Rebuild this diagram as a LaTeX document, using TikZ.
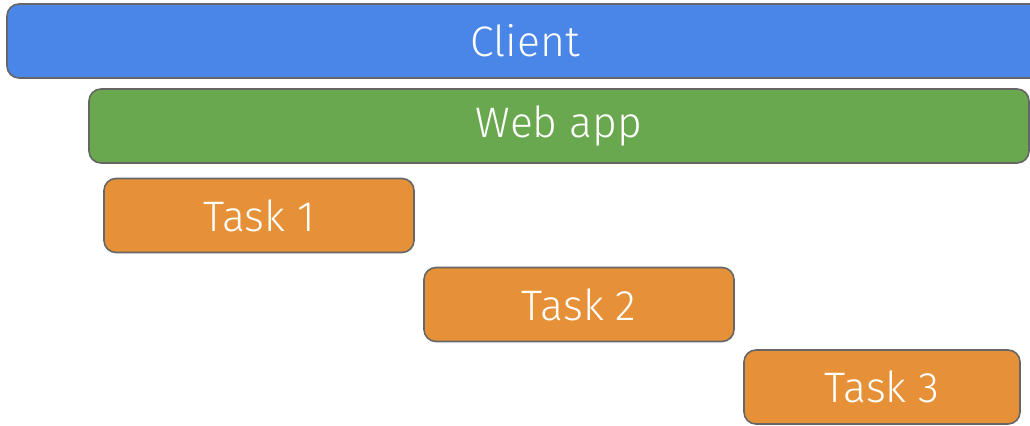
\documentclass[tikz,border=0pt]{standalone}
\usepackage{fontspec}
\setmainfont{Fira Sans}[UprightFont=* Light]
\definecolor{clientblue}{HTML}{4A86E8}
\definecolor{webgreen}{HTML}{6AA84F}
\definecolor{taskorange}{HTML}{E69138}
\definecolor{edgegray}{HTML}{666666}
\tikzset{
  bar/.style={rectangle, rounded corners=9pt, draw=edgegray, line width=1.2pt,
    text=white, font=\fontsize{32}{38}\selectfont, minimum height=55.5pt,
    inner sep=0pt},
  clientbar/.style={bar, fill=clientblue},
  webbar/.style={bar, fill=webgreen},
  taskbar/.style={bar, fill=taskorange},
}
\begin{document}
\begin{tikzpicture}[x=0.75pt, y=-0.75pt]
  \useasboundingbox (0,0) rectangle (1030,425);
  \clip (0,0) rectangle (1030,425);
  \node[clientbar, minimum width=777pt] (client) at (525,41) {Client};
  \node[webbar, minimum width=705pt] (web) at (559,126) {Web app};
  \node[taskbar, minimum width=232.5pt] (task1) at (259,215.5) {Task 1};
  \node[taskbar, minimum width=232.5pt] (task2) at (579,304.5) {Task 2};
  \node[taskbar, minimum width=207pt] (task3) at (882,387) {Task 3};
\end{tikzpicture}
\end{document}
